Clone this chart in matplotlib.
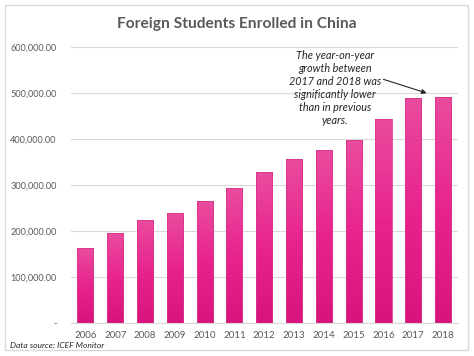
import numpy as np
import matplotlib.pyplot as plt
from matplotlib.colors import LinearSegmentedColormap
from matplotlib.patches import Rectangle

years = ['2006', '2007', '2008', '2009', '2010', '2011', '2012',
         '2013', '2014', '2015', '2016', '2017', '2018']
students = [162695, 195503, 223499, 238184, 265090, 292611, 328330,
            356499, 377054, 397635, 442773, 489200, 492185]
y_ticks = [0, 100000, 200000, 300000, 400000, 500000, 600000]
y_labels = ['-', '100,000.00', '200,000.00', '300,000.00',
            '400,000.00', '500,000.00', '600,000.00']

plt.rcParams['font.family'] = ['Lato', 'DejaVu Sans']

fig = plt.figure(figsize=(4.74, 3.56), dpi=100)
ax = fig.add_axes([70.5 / 474, 1 - 322.7 / 356, 387.5 / 474, 275.5 / 356])

x = np.arange(len(years))
bars = ax.bar(x, students, width=0.54, color='none', edgecolor='#d6358a',
              linewidth=0.6, zorder=3)

# vertical pink gradient inside each bar
cmap = LinearSegmentedColormap.from_list(
    'pink', ['#d8147c', '#e8238e', '#ea4c9e'])
grad = np.linspace(0, 1, 256).reshape(-1, 1)
for b in bars:
    x0, w, h = b.get_x(), b.get_width(), b.get_height()
    im = ax.imshow(grad, cmap=cmap, origin='lower', aspect='auto',
                   extent=(x0, x0 + w, 0, h), zorder=2)
    im.set_clip_path(b)

ax.set_xlim(-0.5, len(years) - 0.5)
ax.set_ylim(0, 600000)
ax.set_yticks(y_ticks)
ax.set_yticklabels(y_labels)
ax.set_xticks(x)
ax.set_xticklabels(years)
ax.tick_params(axis='y', length=0, labelsize=6.6, colors='#595959', pad=10)
ax.tick_params(axis='x', length=0, labelsize=7, colors='#595959', pad=6)
ax.grid(axis='y', color='#d9d9d9', linewidth=0.8, zorder=0)
for s in ['top', 'right', 'left']:
    ax.spines[s].set_visible(False)
ax.spines['bottom'].set_color('#d9d9d9')

fig.text(0.5, 1 - 24 / 356, 'Foreign Students Enrolled in China',
         ha='center', va='center', fontsize=11.2, fontweight='bold',
         color='#595959')

ax.text(8.38, 594000,
        'The year-on-year\ngrowth between\n2017 and 2018 was\n'
        'significantly lower\nthan in previous\nyears.',
        ha='center', va='top', fontsize=7.8, style='italic',
        color='#262626', linespacing=1.22)
ax.annotate('', xy=(11.45, 500000), xytext=(10.0, 530000),
            arrowprops=dict(arrowstyle='-|>', color='#262626', lw=0.8,
                            mutation_scale=7, shrinkA=0, shrinkB=0))

fig.text(10 / 474, 1 - 346 / 356, 'Data source: ICEF Monitor',
         ha='left', va='center', fontsize=6.1, style='italic', color='#262626')

fig.patches.append(Rectangle((5 / 474, 6 / 356), 463 / 474, 345 / 356,
                             transform=fig.transFigure, fill=False,
                             edgecolor='#d9d9d9', linewidth=1))

fig.savefig('out.png', dpi=100)
